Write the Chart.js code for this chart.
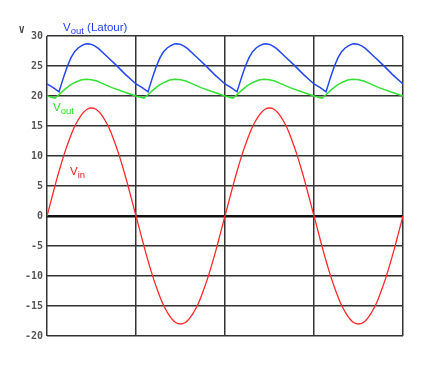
<!DOCTYPE html>
<html>
<head>
<meta charset="utf-8">
<script src="https://cdn.jsdelivr.net/npm/chart.js@4"></script>
<style>
  html, body { margin: 0; padding: 0; background: #fff; }
  #wrap { width: 422px; height: 367px; }
</style>
</head>
<body>
<div id="wrap"><canvas id="chart" width="422" height="367"></canvas></div>
<script>
const yTicks = [-20, -15, -10, -5, 0, 5, 10, 15, 20, 25, 30];

const vinX = [
  0, 0.05, 0.1, 0.15, 0.2, 0.25, 0.3, 0.35, 0.4, 0.45, 0.5, 0.55, 0.6, 0.65, 0.7, 0.75, 0.8, 0.85, 0.9, 0.95,
  1, 1.05, 1.1, 1.15, 1.2, 1.25, 1.3, 1.35, 1.4, 1.45, 1.5, 1.55, 1.6, 1.65, 1.7, 1.75, 1.8, 1.85, 1.9, 1.95,
  2, 2.05, 2.1, 2.15, 2.2, 2.25, 2.3, 2.35, 2.4, 2.45, 2.5, 2.55, 2.6, 2.65, 2.7, 2.75, 2.8, 2.85, 2.9, 2.95,
  3, 3.05, 3.1, 3.15, 3.2, 3.25, 3.3, 3.35, 3.4, 3.45, 3.5, 3.55, 3.6, 3.65, 3.7, 3.75, 3.8, 3.85, 3.9, 3.95,
  4];
const vinY = [
  0, 2.8, 5.6, 8.2, 10.6, 12.7, 14.6, 16.0, 17.1, 17.8, 18.0, 17.8, 17.1, 16.0, 14.6, 12.7, 10.6, 8.2, 5.6, 2.8,
  0, -2.8, -5.6, -8.2, -10.6, -12.7, -14.6, -16.0, -17.1, -17.8, -18.0, -17.8, -17.1, -16.0, -14.6, -12.7, -10.6, -8.2, -5.6, -2.8,
  0, 2.8, 5.6, 8.2, 10.6, 12.7, 14.6, 16.0, 17.1, 17.8, 18.0, 17.8, 17.1, 16.0, 14.6, 12.7, 10.6, 8.2, 5.6, 2.8,
  0, -2.8, -5.6, -8.2, -10.6, -12.7, -14.6, -16.0, -17.1, -17.8, -18.0, -17.8, -17.1, -16.0, -14.6, -12.7, -10.6, -8.2, -5.6, -2.8,
  0];

const latourX = [
  0, 0.07, 0.135, 0.16, 0.19, 0.23, 0.27, 0.31, 0.35, 0.39, 0.43, 0.46, 0.5, 0.54, 0.58, 0.68, 0.78, 0.88,
  1, 1.07, 1.135, 1.16, 1.19, 1.23, 1.27, 1.31, 1.35, 1.39, 1.43, 1.46, 1.5, 1.54, 1.58, 1.68, 1.78, 1.88,
  2, 2.07, 2.135, 2.16, 2.19, 2.23, 2.27, 2.31, 2.35, 2.39, 2.43, 2.46, 2.5, 2.54, 2.58, 2.68, 2.78, 2.88,
  3, 3.07, 3.135, 3.16, 3.19, 3.23, 3.27, 3.31, 3.35, 3.39, 3.43, 3.46, 3.5, 3.54, 3.58, 3.68, 3.78, 3.88,
  4];
const latourY = [
  22.0, 21.4, 20.7, 21.9, 23.3, 25.0, 26.4, 27.4, 28.0, 28.4, 28.65, 28.7, 28.6, 28.3, 27.9, 26.5, 25.1, 23.6,
  22.0, 21.4, 20.7, 21.9, 23.3, 25.0, 26.4, 27.4, 28.0, 28.4, 28.65, 28.7, 28.6, 28.3, 27.9, 26.5, 25.1, 23.6,
  22.0, 21.4, 20.7, 21.9, 23.3, 25.0, 26.4, 27.4, 28.0, 28.4, 28.65, 28.7, 28.6, 28.3, 27.9, 26.5, 25.1, 23.6,
  22.0, 21.4, 20.7, 21.9, 23.3, 25.0, 26.4, 27.4, 28.0, 28.4, 28.65, 28.7, 28.6, 28.3, 27.9, 26.5, 25.1, 23.6,
  22.0];

const voutX = [
  0, 0.05, 0.09, 0.14, 0.2, 0.26, 0.32, 0.38, 0.44, 0.5, 0.56, 0.62, 0.73, 0.86,
  1, 1.05, 1.09, 1.14, 1.2, 1.26, 1.32, 1.38, 1.44, 1.5, 1.56, 1.62, 1.73, 1.86,
  2, 2.05, 2.09, 2.14, 2.2, 2.26, 2.32, 2.38, 2.44, 2.5, 2.56, 2.62, 2.73, 2.86,
  3, 3.05, 3.09, 3.14, 3.2, 3.26, 3.32, 3.38, 3.44, 3.5, 3.56, 3.62, 3.73, 3.86,
  4];
const voutY = [
  20.0, 19.8, 19.65, 20.3, 21.1, 21.8, 22.3, 22.65, 22.8, 22.7, 22.5, 22.1, 21.4, 20.7,
  20.0, 19.8, 19.65, 20.3, 21.1, 21.8, 22.3, 22.65, 22.8, 22.7, 22.5, 22.1, 21.4, 20.7,
  20.0, 19.8, 19.65, 20.3, 21.1, 21.8, 22.3, 22.65, 22.8, 22.7, 22.5, 22.1, 21.4, 20.7,
  20.0, 19.8, 19.65, 20.3, 21.1, 21.8, 22.3, 22.65, 22.8, 22.7, 22.5, 22.1, 21.4, 20.7,
  20.0];

const pts = (xs, ys) => xs.map((x, i) => ({ x: x, y: ys[i] }));

// labels with subscripts, drawn over the plot
const labelPlugin = {
  id: 'labels',
  afterDatasetsDraw(chart) {
    const ctx = chart.ctx;
    ctx.save();
    ctx.textBaseline = 'alphabetic';
    ctx.textAlign = 'left';

    function sub(x, y, color, main, small, rest) {
      ctx.fillStyle = color;
      ctx.font = '11.5px "Liberation Sans", Arial, sans-serif';
      ctx.fillText(main, x, y);
      x += ctx.measureText(main).width;
      ctx.font = '9.5px "Liberation Sans", Arial, sans-serif';
      ctx.fillText(small, x, y + 3);
      x += ctx.measureText(small).width;
      if (rest) {
        ctx.font = '11.5px "Liberation Sans", Arial, sans-serif';
        ctx.fillText(rest, x, y);
      }
    }

    sub(63, 31, '#2440ee', 'V', 'out', ' (Latour)');
    sub(53, 111, '#22dd22', 'V', 'out');
    sub(70, 175, '#dd2222', 'V', 'in');

    ctx.fillStyle = '#444';
    ctx.font = 'bold 9px "DejaVu Sans Mono", monospace';
    ctx.fillText('V', 19, 33);
    ctx.restore();
  }
};

const config = {
  type: 'line',
  data: {
    datasets: [
      {
        label: 'Vin',
        data: pts(vinX, vinY),
        borderColor: '#ff2a2a',
        borderWidth: 1.3,
        pointRadius: 0,
        tension: 0.4
      },
      {
        label: 'Vout',
        data: pts(voutX, voutY),
        borderColor: '#33e033',
        borderWidth: 1.5,
        pointRadius: 0,
        tension: 0
      },
      {
        label: 'Vout (Latour)',
        data: pts(latourX, latourY),
        borderColor: '#2448f0',
        borderWidth: 1.5,
        pointRadius: 0,
        tension: 0
      }
    ]
  },
  options: {
    responsive: false,
    animation: false,
    layout: { padding: { top: 36, right: 19, bottom: 31, left: 0 } },
    plugins: {
      legend: { display: false },
      tooltip: { enabled: false }
    },
    scales: {
      x: {
        type: 'linear',
        min: 0,
        max: 4,
        ticks: { display: false, stepSize: 1 },
        grid: { color: '#333', lineWidth: 1.5, drawTicks: false },
        border: { display: false },
        afterFit(scale) { scale.height = 0; }
      },
      y: {
        min: -20,
        max: 30,
        afterBuildTicks(scale) { scale.ticks = yTicks.map(v => ({ value: v })); },
        ticks: {
          padding: 4,
          color: '#555',
          font: { family: '"DejaVu Sans Mono", monospace', size: 10, weight: 'bold' },
          callback: v => String(v)
        },
        grid: {
          drawTicks: false,
          color: c => (c.tick && c.tick.value === 0 ? '#111' : '#333'),
          lineWidth: c => (c.tick && c.tick.value === 0 ? 2.5 : 1.5)
        },
        border: { display: false },
        afterFit(scale) { scale.width = 47; }
      }
    }
  },
  plugins: [labelPlugin]
};

new Chart(document.getElementById('chart'), config);
</script>
</body>
</html>
